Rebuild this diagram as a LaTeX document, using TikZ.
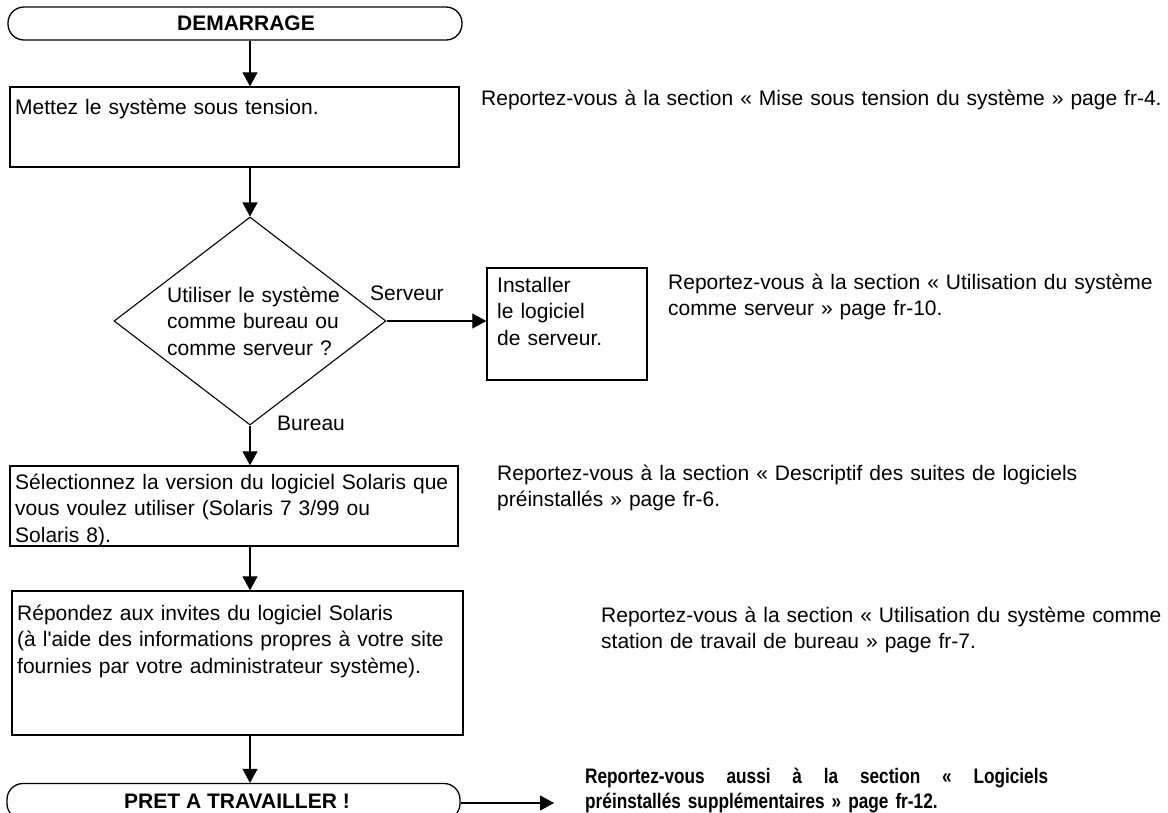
\documentclass[tikz,border=0pt]{standalone}
\usepackage{fontspec}
\setmainfont{Liberation Sans}[Ligatures=TeXOff]
\newfontfamily\narrowbold[FakeStretch=0.82,Ligatures=TeXOff]{Liberation Sans Bold}
\usetikzlibrary{shapes.geometric,arrows.meta,calc}
\begin{document}
\begin{tikzpicture}[x=1pt,y=-1pt,
  every node/.style={font=\fontsize{21pt}{26.5pt}\selectfont},
  stepbox/.style={draw,line width=1.4pt,rectangle,inner sep=0},
  term/.style={draw,line width=1.3pt,rectangle,rounded corners=16pt,inner sep=0,
    font=\fontsize{21pt}{26.5pt}\selectfont\bfseries},
  txt/.style={anchor=base west,inner sep=0,align=left,text width=#1},
  lbl/.style={anchor=base west,inner sep=0},
  arr/.style={line width=1.1pt,-{Triangle[width=15pt,length=14pt]}},
]
\useasboundingbox (0,0) rectangle (1168,812);

% terminals and boxes
\node[term,minimum width=454pt,minimum height=33pt] (start) at (235,23.5) {\hspace*{22pt}DEMARRAGE};
\node[stepbox,minimum width=449pt,minimum height=80pt] (box1) at (234.5,127) {};
\node[draw,diamond,line width=1.1pt,minimum width=272pt,minimum height=208pt,inner sep=0] (dia) at (250,321) {};
\node[stepbox,minimum width=160pt,minimum height=112pt] (srv) at (567,324) {};
\node[stepbox,minimum width=448pt,minimum height=80pt] (box3) at (234,506) {};
\node[stepbox,minimum width=451pt,minimum height=144pt] (box4) at (237.5,663) {};
\node[term,minimum width=453pt,minimum height=36pt] (pret) at (233.5,801.5) {\hspace*{7pt}PRET A TRAVAILLER !};

% texts inside shapes
\node[txt=440pt] (t1) at (15,114) {Mettez le système sous tension.};
\node[txt=200pt] (tdia) at (167,302) {Utiliser le système\\comme bureau ou\\comme serveur ?};
\node[txt=150pt] (tsrv) at (497,292) {Installer\\le logiciel\\de serveur.};
\node[txt=445pt] (t3) at (15,489) {Sélectionnez la version du logiciel Solaris que\\vous voulez utiliser (Solaris 7 3/99 ou\\Solaris 8).};
\node[txt=445pt] (t4) at (17,620) {Répondez aux invites du logiciel Solaris\\(à l'aide des informations propres à votre site\\fournies par votre administrateur système).};

% branch labels
\node[lbl] (lserv) at (370,300) {Serveur};
\node[lbl] (lbur) at (277,430) {Bureau};

% references on the right
\node[txt=720pt] (r1) at (481,105) {Reportez-vous à la section « Mise sous tension du système » page fr-4.};
\node[txt=495pt] (r2) at (668,289) {Reportez-vous à la section « Utilisation du système\\comme serveur » page fr-10.};
\node[txt=600pt] (r3) at (497,480) {Reportez-vous à la section « Descriptif des suites de logiciels\\préinstallés » page fr-6.};
\node[txt=580pt] (r4) at (601,622) {Reportez-vous à la section « Utilisation du système comme\\station de travail de bureau » page fr-7.};
\node[anchor=base west,inner sep=0,align=left,text width=470pt,
  font=\fontsize{21pt}{25pt}\narrowbold] (r5) at (585,783)
  {\makebox[463pt][l]{Reportez-vous\hfill aussi\hfill à\hfill la\hfill section\hfill «\hfill Logiciels}\\préinstallés supplémentaires » page fr-12.};

% connectors
\coordinate (aend) at (554,803);
\draw[arr] (start.south -| dia.north) -- (box1.north -| dia.north);
\draw[arr] (box1.south -| dia.north) -- (dia.north);
\draw[arr] (dia.east) -- (dia.east -| srv.west);
\draw[arr] (dia.south) -- (box3.north -| dia.south);
\draw[arr] (box3.south -| dia.south) -- (box4.north -| dia.south);
\draw[arr] (box4.south -| dia.south) -- (pret.north -| dia.south);
\draw[arr] (pret.east |- aend) -- (aend);
\end{tikzpicture}
\end{document}
